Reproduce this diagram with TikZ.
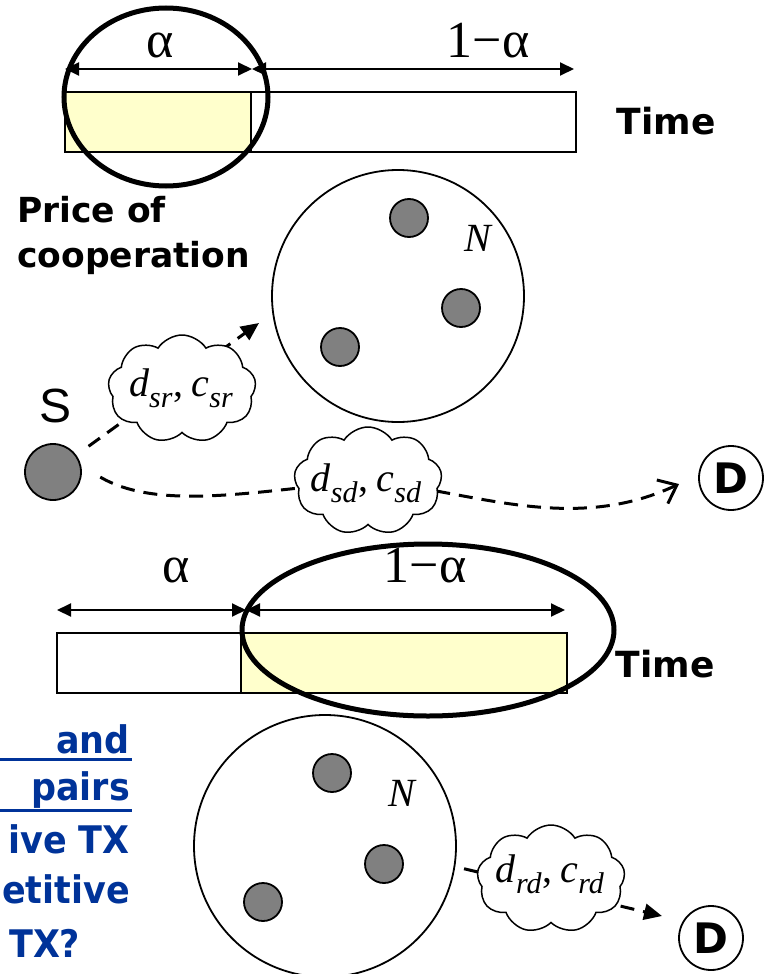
\documentclass[tikz,border=0pt]{standalone}
\usepackage{fontspec}
\setmainfont{Liberation Serif}
\newfontfamily\comicfont{DejaVu Sans}
\newfontfamily\comicnarrow[FakeStretch=0.92]{DejaVu Sans}
\newfontfamily\arialfont{Liberation Sans}
\usetikzlibrary{shapes.symbols,arrows.meta,backgrounds}
\definecolor{paleyellow}{RGB}{255,255,204}
\definecolor{relaygray}{RGB}{128,128,128}
\definecolor{slideblue}{RGB}{0,51,153}
\newcommand{\dcpair}[1]{\textit{d}\raisebox{-11pt}{\fontsize{30}{30}\selectfont\textit{#1}}\hspace{1pt},\hspace{8pt}\textit{c}\raisebox{-11pt}{\fontsize{30}{30}\selectfont\textit{#1}}}
\begin{document}
\begin{tikzpicture}[x=1pt,y=-1pt,
  bar/.style={draw,line width=2pt},
  dimarrow/.style={{Triangle[length=14pt,width=13pt]}-{Triangle[length=14pt,width=13pt]},line width=2pt},
  focus/.style={line width=5pt},
  group/.style={circle,draw,line width=1.8pt,inner sep=0pt},
  relay/.style={circle,draw,fill=relaygray,line width=1.8pt,minimum size=38,inner sep=0pt},
  terminal/.style={circle,draw,line width=1.8pt,minimum size=64,inner sep=0pt,font=\comicfont\bfseries\fontsize{42}{42}\selectfont},
  link/.style={line width=3pt,dash pattern=on 14pt off 9pt},
  puff/.style={cloud,draw,fill=white,line width=1.5pt,cloud puffs=9,cloud puff arc=115,aspect=1.4,minimum width=148,minimum height=108,inner sep=0pt},
  cloudtext/.style={font=\fontsize{40}{44}\selectfont,inner sep=0pt},
  alphalbl/.style={font=\fontsize{52}{56}\selectfont,inner sep=0pt,anchor=base},
  timelbl/.style={font=\comicfont\bfseries\fontsize{36}{40}\selectfont,inner sep=0pt},
  pricelbl/.style={font=\comicfont\bfseries\fontsize{34.5}{40}\selectfont,inner sep=0pt,anchor=base west},
  bluelbl/.style={font=\comicnarrow\bfseries\fontsize{38}{40}\selectfont,text=slideblue,inner sep=0pt},
  nlbl/.style={font=\itshape\fontsize{40}{44}\selectfont,inner sep=0pt}
]
\useasboundingbox (0,0) rectangle (767,974);

% ---------- top time bar ----------
\filldraw[bar,fill=paleyellow] (65,92) rectangle (251,152);
\draw[bar] (251,92) rectangle (576,152);
\coordinate (t1a) at (65,69);
\coordinate (t1b) at (252,69);
\coordinate (t1c) at (574,69);
\draw[dimarrow] (t1a) -- (t1b);
\draw[dimarrow] (t1b) -- (t1c);
\node[alphalbl] (alpha1) at (160,57) {α};
\node[alphalbl] (oneminus1) at (488,57) {1−α};
\draw[focus] (166,97) ellipse [x radius=102, y radius=89];
\node[timelbl] (time1) at (666,121) {Time};

% ---------- price of cooperation ----------
\node[pricelbl] (price1) at (17,222) {Price of};
\node[pricelbl] (price2) at (17,267) {cooperation};

% ---------- top relay group ----------
\node[group,minimum size=252] (Ntop) at (398,296) {};
\node[relay] (r1) at (409,218) {};
\node[relay] (r2) at (461,308) {};
\node[relay] (r3) at (340,347) {};
\node[nlbl] (Nlbl1) at (478,238) {N};

% ---------- source and destination ----------
\node[circle,draw,fill=relaygray,line width=1.8pt,minimum size=56,inner sep=0pt] (S) at (53,472) {};
\node[font=\arialfont\fontsize{48}{50}\selectfont,inner sep=0pt,anchor=base] (Slbl) at (56,422) {S};
\node[terminal] (D1) at (731,478) {D};
\coordinate (tip1) at (259,323);
\coordinate (tip2) at (679,484);

% clouds on S links
\node[puff] (cl1) at (182,389) {};
\node[cloudtext] (cl1t) at (181,388) {\dcpair{sr}};
\node[puff] (cl2) at (368,481) {};
\node[cloudtext] (cl2t) at (366,483) {\dcpair{sd}};

% ---------- bottom time bar ----------
\draw[bar] (57,633) rectangle (241,693);
\filldraw[bar,fill=paleyellow] (241,633) rectangle (567,693);
\coordinate (t2a) at (57,610);
\coordinate (t2b) at (246,610);
\coordinate (t2c) at (565,610);
\draw[dimarrow] (t2a) -- (t2b);
\draw[dimarrow] (t2b) -- (t2c);
\node[alphalbl] (alpha2) at (176,582) {α};
\node[alphalbl] (oneminus2) at (425,582) {1−α};
\draw[focus] (428,630) ellipse [x radius=186, y radius=86];
\node[timelbl] (time2) at (665,664) {Time};

% ---------- blue text (cut at the left edge) ----------
\node[bluelbl,anchor=base east] (b1) at (130,753) {and};
\node[bluelbl,anchor=base east] (b2) at (130,800) {pairs};
\node[bluelbl,anchor=base east] (b3) at (130,853) {ive TX};
\node[bluelbl,anchor=base east] (b4) at (130,903) {etitive};
\node[bluelbl,anchor=base west] (b5) at (9,957) {TX?};
\draw[slideblue,line width=3pt] (0,759) -- (132,759);
\draw[slideblue,line width=3pt] (0,810) -- (132,810);

% ---------- bottom relay group ----------
\node[group,minimum size=262] (Nbot) at (325,846) {};
\node[relay] (r4) at (332,773) {};
\node[relay] (r5) at (384,864) {};
\node[relay] (r6) at (263,902) {};
\node[nlbl] (Nlbl2) at (402,793) {N};
\node[terminal] (D2) at (711,938) {D};
\coordinate (tip3) at (662,916);
\node[puff] (cl3) at (551,879) {};
\node[cloudtext] (cl3t) at (550,874) {\dcpair{rd}};

% ---------- dashed links (behind) ----------
\begin{scope}[on background layer]
  \draw[link,-{Triangle[length=18pt,width=16pt]},shorten <=15pt] (S) -- (tip1);
  \draw[link,shorten <=22pt] (S.12) .. controls (160,512) and (260,490) .. (cl2.center);
  \draw[link,-{Straight Barb[length=16pt,width=26pt,line width=3pt]}] (cl2.center) .. controls (470,490) and (570,535) .. (tip2);
  \draw[link,-{Triangle[length=18pt,width=16pt]},shorten <=9pt] (Nbot.-9) -- (tip3);
\end{scope}
\end{tikzpicture}
\end{document}
